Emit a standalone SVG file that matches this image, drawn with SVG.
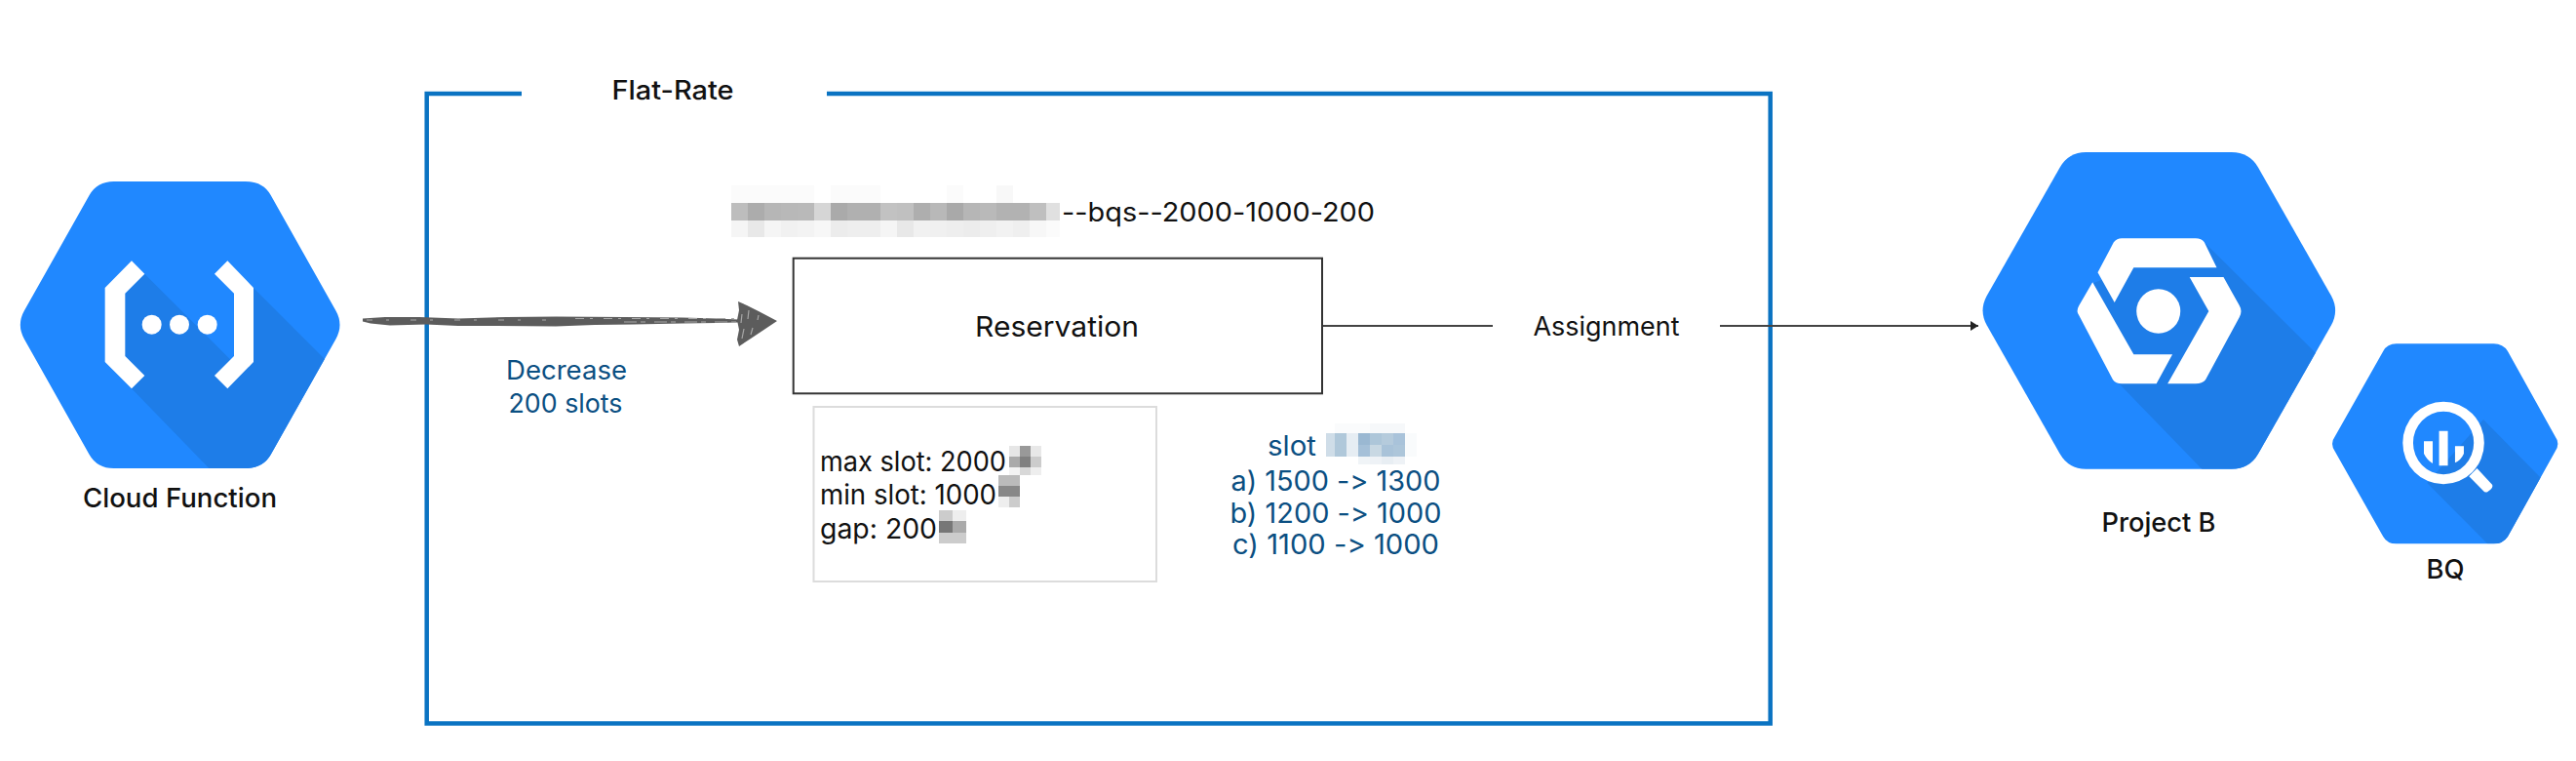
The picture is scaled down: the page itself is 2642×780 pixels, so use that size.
<svg xmlns="http://www.w3.org/2000/svg" width="2642" height="780" viewBox="0 0 2642 780">
<style>
text{font-family:"Inter","Liberation Sans",sans-serif;font-weight:400;fill:#111;font-variant-ligatures:none;font-feature-settings:"calt" 0,"liga" 0}
.c{text-anchor:middle}
.m{font-weight:500}
.b{fill:#0b4f82}
.hex{fill:#2088ff}
.sh{fill:#1e7de8}
.w{fill:#fff}
.fr{fill:none;stroke:#0a73c2;stroke-width:4.5}
.ln{fill:none;stroke:#444;stroke-width:2}
.sk{fill:#5c5c5c}
.fl{fill:none;stroke:#a8a8a8;stroke-width:1.200}
</style>
<defs>
<marker id="ah" markerUnits="userSpaceOnUse" markerWidth="9" markerHeight="10" refX="8" refY="5" orient="auto"><path d="M0 0L8 5L0 10Z" fill="#222"/></marker>
<clipPath id="cf"><path d="M75 505L275 150Q299 108 350 108L755 108Q809 108 833 150L1033 505Q1058 549 1033 593L833 948Q809 990 755 990L350 990Q299 990 275 948L75 593Q50 549 75 505Z"/></clipPath>
<clipPath id="pb"><path d="M92 490L275 95Q297 48 340 48L705 48Q750 48 772 95L955 490Q975 535 955 580L772 975Q750 1022 705 1022L340 1022Q297 1022 275 975L92 580Q72 535 92 490Z"/></clipPath>
<clipPath id="bq"><path d="M965 920L1085 660Q1095 637 1118 637L1362 637Q1385 637 1397 660L1515 920Q1530 945 1515 970L1397 1230Q1385 1252 1362 1252L1118 1252Q1095 1252 1085 1230L965 970Q950 945 965 920Z"/></clipPath>
</defs>
<rect width="2642" height="780" fill="#fff"/>

<g id="frame">
<path class="fr" d="M535 96H437.700V741.500H1815.700V96H848"/>
<text x="690" y="102" class="c m" font-size="27" textLength="125" lengthAdjust="spacingAndGlyphs">Flat-Rate</text>
</g>

<g id="connectors">
<path class="ln" d="M1356 334H1531"/>
<path class="ln" d="M1764 334H2029" marker-end="url(#ah)"/>
<g id="sketch-arrow">
<path class="sk" d="M372 326.500L395 325L430 325L470 326.500L520 325L570 324.500L640 325L700 325.500L735 326.500L757 327.500L757 330.500L735 331L700 331.500L650 332.500L610 333L570 334.500L510 334L470 334L437 332.500L400 333.500L380 331.500L372 329.500Z"/>
<path class="fl" stroke-dasharray="9 6 3 11" d="M590 326.500H757"/>
<path class="fl" stroke-dasharray="13 4 5 9" d="M640 330H757"/>
<path class="fl" stroke-dasharray="6 14 3 22" d="M376 328H560"/>
<path class="sk" d="M757 309L766 313L778 319L797 329L785 337L770 347L758 355L756 348L758 338L756 328L758 318Z"/>
<path class="fl" d="M761 322L760 331M763 337L761 347M768 318L767 327M772 336L770 343M778 323L777 328"/>
</g>
</g>

<g id="cloud-function">
<g transform="translate(0 150) scale(.33333)">
<path class="hex" d="M75 505L275 150Q299 108 350 108L755 108Q809 108 833 150L1033 505Q1058 549 1033 593L833 948Q809 990 755 990L350 990Q299 990 275 948L75 593Q50 549 75 505Z"/>
<polygon class="sh" clip-path="url(#cf)" points="445,392 720,667 720,440 780,435 1100,755 1100,1100 750,1100 405,745 323,663 385,452"/>
<polygon class="w" points="405,352 445,392 385,452 385,645 445,705 405,745 323,663 323,435"/>
<polygon class="w" points="700,352 660,392 720,452 720,645 660,705 700,745 780,663 780,435"/>
<circle class="w" cx="467" cy="548" r="30"/><circle class="w" cx="552" cy="548" r="30"/><circle class="w" cx="638" cy="548" r="30"/>
</g>
<text x="184.500" y="520" class="c m" font-size="27.500" textLength="199" lengthAdjust="spacingAndGlyphs">Cloud Function</text>
</g>

<g id="decrease-label">
<text x="581" y="389" class="c b" font-size="27" textLength="124" lengthAdjust="spacingAndGlyphs">Decrease</text>
<text x="580" y="423" class="c b" font-size="27" textLength="117" lengthAdjust="spacingAndGlyphs">200 slots</text>
</g>

<g id="reservation-name">
<g transform="translate(750 190)">
<g id="blur-r2"><rect x="0" y="18" width="17" height="18" fill="#bdbdbd"/><rect x="17" y="18" width="17" height="18" fill="#acacac"/><rect x="34" y="18" width="17" height="18" fill="#b6b6b6"/><rect x="51" y="18" width="17" height="18" fill="#b8b8b8"/><rect x="68" y="18" width="17" height="18" fill="#b9b9b9"/><rect x="85" y="18" width="17" height="18" fill="#d6d6d6"/><rect x="102" y="18" width="17" height="18" fill="#aaaaaa"/><rect x="119" y="18" width="17" height="18" fill="#b0b0b0"/><rect x="136" y="18" width="17" height="18" fill="#b0b0b0"/><rect x="153" y="18" width="17" height="18" fill="#c2c2c2"/><rect x="170" y="18" width="17" height="18" fill="#c0c0c0"/><rect x="187" y="18" width="17" height="18" fill="#aeaeae"/><rect x="204" y="18" width="17" height="18" fill="#b8b8b8"/><rect x="221" y="18" width="17" height="18" fill="#a9a9a9"/><rect x="238" y="18" width="17" height="18" fill="#b6b6b6"/><rect x="255" y="18" width="17" height="18" fill="#b9b9b9"/><rect x="272" y="18" width="17" height="18" fill="#b2b2b2"/><rect x="289" y="18" width="17" height="18" fill="#b2b2b2"/><rect x="306" y="18" width="17" height="18" fill="#bfbfbf"/><rect x="323" y="18" width="14" height="18" fill="#e0e0e0"/></g>
<g id="blur-r3"><rect x="0" y="36" width="17" height="17" fill="#f5f5f5"/><rect x="17" y="36" width="17" height="17" fill="#e8e8e8"/><rect x="34" y="36" width="17" height="17" fill="#f5f5f5"/><rect x="51" y="36" width="17" height="17" fill="#f1f1f1"/><rect x="68" y="36" width="17" height="17" fill="#f3f3f3"/><rect x="85" y="36" width="17" height="17" fill="#f7f7f7"/><rect x="102" y="36" width="17" height="17" fill="#ececec"/><rect x="119" y="36" width="34" height="17" fill="#eeeeee"/><rect x="153" y="36" width="17" height="17" fill="#f5f5f5"/><rect x="170" y="36" width="17" height="17" fill="#e8e8e8"/><rect x="187" y="36" width="17" height="17" fill="#f1f1f1"/><rect x="204" y="36" width="17" height="17" fill="#f0f0f0"/><rect x="221" y="36" width="17" height="17" fill="#eeeeee"/><rect x="238" y="36" width="17" height="17" fill="#ececec"/><rect x="255" y="36" width="17" height="17" fill="#efefef"/><rect x="272" y="36" width="17" height="17" fill="#f2f2f2"/><rect x="289" y="36" width="17" height="17" fill="#efefef"/><rect x="306" y="36" width="17" height="17" fill="#f7f7f7"/><rect x="323" y="36" width="14" height="17" fill="#fbfbfb"/></g>
<g id="blur-r1" fill="#fbfbfb"><rect x="0" y="0" width="85" height="18"/><rect x="102" y="0" width="51" height="18"/><rect x="221" y="0" width="17" height="18"/><rect x="272" y="0" width="17" height="18" fill="#f8f8f8"/></g>
</g>
<text x="1089" y="226.500" font-size="27" textLength="321" lengthAdjust="spacingAndGlyphs">--bqs--2000-1000-200</text>
</g>

<g id="reservation">
<rect x="813.700" y="264.700" width="542.300" height="138.600" fill="#fff" stroke="#333" stroke-width="2"/>
<text x="1084" y="345" class="c" font-size="29" textLength="168" lengthAdjust="spacingAndGlyphs">Reservation</text>
</g>

<g id="assignment">
<text x="1647.500" y="344" class="c" font-size="27" textLength="150" lengthAdjust="spacingAndGlyphs">Assignment</text>
</g>

<g id="slot-settings">
<rect x="834.500" y="417" width="351.500" height="179" fill="#fff" stroke="#dcdcdc" stroke-width="2"/>
<text x="841" y="482.500" font-size="28" textLength="191" lengthAdjust="spacingAndGlyphs">max slot: 2000</text>
<text x="841" y="516.500" font-size="28" textLength="181" lengthAdjust="spacingAndGlyphs">min slot: 1000</text>
<text x="841" y="551.500" font-size="28" textLength="120" lengthAdjust="spacingAndGlyphs">gap: 200</text>
<g id="blur-max"><rect x="1035" y="457" width="11" height="11" fill="#e6e6e6"/><rect x="1046" y="457" width="11" height="11" fill="#999"/><rect x="1057" y="457" width="11" height="11" fill="#e8e8e8"/><rect x="1035" y="468" width="11" height="11" fill="#aaa"/><rect x="1046" y="468" width="11" height="11" fill="#808080"/><rect x="1057" y="468" width="11" height="11" fill="#ccc"/><rect x="1035" y="479" width="11" height="8" fill="#f3f3f3"/><rect x="1046" y="479" width="11" height="8" fill="#d8d8d8"/><rect x="1057" y="479" width="11" height="8" fill="#eee"/></g>
<g id="blur-min"><rect x="1024" y="487" width="22" height="11" fill="#bbb"/><rect x="1024" y="498" width="22" height="11" fill="#888"/><rect x="1024" y="509" width="11" height="11" fill="#eee"/><rect x="1035" y="509" width="11" height="11" fill="#ccc"/></g>
<g id="blur-gap"><rect x="963" y="523" width="14" height="11" fill="#ccc"/><rect x="977" y="523" width="14" height="11" fill="#eee"/><rect x="963" y="534" width="14" height="12" fill="#777"/><rect x="977" y="534" width="14" height="12" fill="#aaa"/><rect x="963" y="546" width="28" height="11" fill="#ccc"/></g>
</g>

<g id="slot-cases">
<text x="1300" y="467" font-size="28" class="b" textLength="50" lengthAdjust="spacingAndGlyphs">slot</text>
<g id="blur-slot">
<rect x="1369" y="434" width="60" height="10" fill="#fafbfc"/><rect x="1405" y="434" width="36" height="10" fill="#f6f8fa"/>
<rect x="1360" y="444" width="9" height="24" fill="#cfdde8"/><rect x="1369" y="444" width="12" height="24" fill="#b0c8da"/><rect x="1381" y="444" width="12" height="24" fill="#e6edf3"/>
<rect x="1393" y="444" width="12" height="12" fill="#9ab8d2"/><rect x="1405" y="444" width="12" height="12" fill="#adc6d9"/><rect x="1417" y="444" width="12" height="12" fill="#b5cbdc"/><rect x="1429" y="444" width="12" height="12" fill="#a9c3da"/>
<rect x="1393" y="456" width="12" height="12" fill="#a5c0d8"/><rect x="1405" y="456" width="12" height="12" fill="#c8d8e3"/><rect x="1417" y="456" width="12" height="12" fill="#a9c3d9"/><rect x="1429" y="456" width="12" height="12" fill="#adc6da"/>
<rect x="1441" y="444" width="12" height="24" fill="#f9fbfc"/>
<rect x="1393" y="468" width="12" height="8" fill="#f0f4f7"/><rect x="1405" y="468" width="12" height="8" fill="#eef2f6"/><rect x="1417" y="468" width="12" height="8" fill="#e8eef3"/><rect x="1429" y="468" width="12" height="8" fill="#eef2f6"/>
</g>
<text x="1370" y="503" class="c b" font-size="28" textLength="215" lengthAdjust="spacingAndGlyphs">a) 1500 -&gt; 1300</text>
<text x="1370" y="536" class="c b" font-size="28" textLength="217" lengthAdjust="spacingAndGlyphs">b) 1200 -&gt; 1000</text>
<text x="1370" y="568" class="c b" font-size="28" textLength="212" lengthAdjust="spacingAndGlyphs">c) 1100 -&gt; 1000</text>
</g>

<g id="project-b">
<g transform="translate(2000 140) scale(.40944 .33333)">
<path class="hex" d="M92 490L275 95Q297 48 340 48L705 48Q750 48 772 95L955 490Q975 535 955 580L772 975Q750 1022 705 1022L340 1022Q297 1022 275 975L92 580Q72 535 92 490Z"/>
<polygon class="sh" clip-path="url(#pb)" points="637,325 1100,890 1100,1100 692,1100 420,755 360,450 460,403 668,403"/>
<path class="w" d="M370 418L410 325Q418 313 430 313L615 313Q630 313 637 325L668 403L460 403L412 510Z"/>
<path class="w" d="M357 448L460 670L557 670L517 760L430 760Q415 760 408 748L323 550Q315 537 323 520Z"/>
<path class="w" d="M600 432L685 432L725 520Q733 537 725 555L640 748Q632 760 615 760L545 760L648 537Z"/>
<ellipse class="w" cx="522" cy="537" rx="55" ry="68"/>
</g>
<text x="2214" y="545" class="c m" font-size="27.500" textLength="117" lengthAdjust="spacingAndGlyphs">Project B</text>
</g>

<g id="bq">
<g transform="translate(2000 140) scale(.40944 .33333)">
<path class="hex" d="M965 920L1085 660Q1095 637 1118 637L1362 637Q1385 637 1397 660L1515 920Q1530 945 1515 970L1397 1230Q1385 1252 1362 1252L1118 1252Q1095 1252 1085 1230L965 970Q950 945 965 920Z"/>
<polygon class="sh" clip-path="url(#bq)" points="1336,870 1600,1200 1600,1300 1385,1300 1195,1065"/>
<path class="w" fill-rule="evenodd" d="M1134 942A102 127 0 1 0 1338 942A102 127 0 1 0 1134 942ZM1160 942A76 97 0 1 1 1312 942A76 97 0 1 1 1160 942Z"/>
<path class="w" d="M1320 1020L1358 1070Q1361 1078 1354 1085L1346 1093Q1340 1096 1335 1088L1300 1045Z"/>
<path class="w" d="M1225 905H1247V1012H1225ZM1187 937H1209V1005Q1195 995 1187 975ZM1265 952H1287V975Q1280 995 1265 1003Z"/>
</g>
<text x="2508" y="593" class="c m" font-size="27.500" textLength="39" lengthAdjust="spacingAndGlyphs">BQ</text>
</g>
</svg>
